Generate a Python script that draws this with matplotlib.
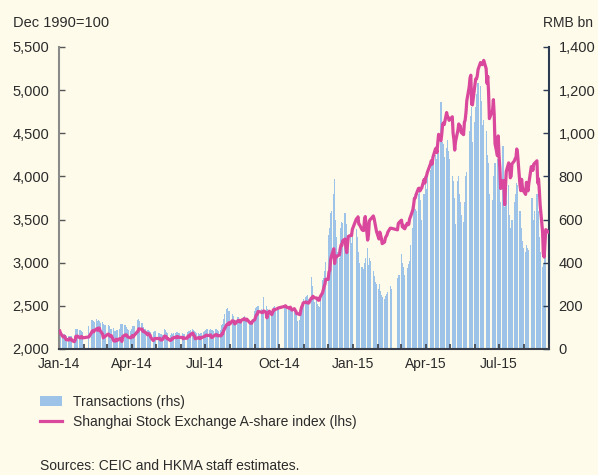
import pandas as pd
import numpy as np
import matplotlib
matplotlib.use('Agg')
import matplotlib.pyplot as plt
import matplotlib.dates as mdates
import matplotlib.patches as mpatches
from matplotlib.lines import Line2D
from matplotlib.ticker import FuncFormatter, MultipleLocator

# exchange holidays (no trading)
holidays = ['2014-01-01', '2014-01-31', '2014-02-03', '2014-02-04', '2014-02-05',
            '2014-02-06', '2014-04-07', '2014-05-01', '2014-05-02', '2014-06-02',
            '2014-09-08', '2014-10-01', '2014-10-02', '2014-10-03', '2014-10-06',
            '2014-10-07', '2015-01-01', '2015-01-02', '2015-02-18', '2015-02-19',
            '2015-02-20', '2015-02-23', '2015-02-24', '2015-04-06', '2015-05-01',
            '2015-06-22']
first_day = '2014-01-01'
last_day = '2015-08-31'

# Shanghai Stock Exchange A-share index (lhs), one row per month
a_share = [
    2208, 2181, 2141, 2143, 2148, 2122, 2108, 2104, 2122, 2118, 2118, 2098, 2085, 2102, 2149, 2139, 2150, 2128, 2134, 2146, 2128,
    2140, 2184, 2202, 2213, 2199, 2214, 2235, 2217, 2243, 2242, 2212, 2174, 2130, 2143, 2144, 2153,
    2173, 2168, 2149, 2156, 2154, 2093, 2095, 2091, 2114, 2098, 2119, 2120, 2116, 2088, 2143, 2163, 2164, 2161, 2142, 2137, 2129,
    2143, 2156, 2139, 2155, 2197, 2204, 2234, 2231, 2230, 2205, 2204, 2197, 2196, 2163, 2178, 2170, 2161, 2132, 2098, 2115, 2121,
    2122, 2124, 2105, 2111, 2105, 2150, 2148, 2143, 2120, 2121, 2099, 2102, 2119, 2117, 2131, 2137, 2130, 2146, 2136, 2135,
    2134, 2119, 2129, 2125, 2125, 2148, 2152, 2146, 2167, 2185, 2163, 2152, 2119, 2121, 2130, 2134, 2120, 2133, 2132, 2144,
    2146, 2157, 2161, 2157, 2157, 2163, 2135, 2134, 2143, 2164, 2167, 2165, 2152, 2156, 2152, 2173, 2175, 2206, 2227, 2280, 2287, 2285, 2305,
    2289, 2327, 2325, 2322, 2291, 2297, 2329, 2325, 2332, 2311, 2331, 2345, 2351, 2345, 2335, 2346, 2314, 2303, 2299, 2298, 2321,
    2340, 2373, 2396, 2403, 2435, 2427, 2421, 2424, 2441, 2424, 2362, 2404, 2425, 2438, 2398, 2421, 2455, 2453, 2457, 2468, 2475,
    2494, 2501, 2486, 2477, 2470, 2485, 2468, 2451, 2467, 2449, 2436, 2410, 2410, 2398, 2447, 2485, 2503, 2534,
    2544, 2544, 2534, 2533, 2533, 2590, 2585, 2611, 2602, 2594, 2590, 2572, 2565, 2567, 2604, 2651, 2688, 2726, 2754, 2809,
    2806, 2893, 2910, 3035, 3076, 3162, 2991, 3078, 3063, 3076, 3092, 3164, 3205, 3201, 3254, 3275, 3174, 3117, 3216, 3305, 3317, 3315, 3387,
    3508, 3509, 3532, 3448, 3439, 3382, 3375, 3373, 3493, 3535, 3262, 3322, 3479, 3500, 3508, 3542, 3511, 3460, 3416, 3361,
    3275, 3355, 3323, 3283, 3221, 3240, 3289, 3305, 3322, 3354, 3400, 3400, 3381, 3453, 3466,
    3493, 3416, 3434, 3401, 3393, 3457, 3440, 3446, 3506, 3530, 3611, 3668, 3745, 3750, 3787, 3860, 3864, 3833, 3855, 3864, 3964, 3924,
    3989, 4005, 4045, 4147, 4183, 4143, 4224, 4315, 4329, 4276, 4391, 4488, 4415, 4495, 4605, 4621, 4601, 4740, 4686, 4686, 4650,
    4691, 4500, 4428, 4305, 4403, 4537, 4608, 4581, 4584, 4510, 4484, 4625, 4655, 4742, 4877, 5039, 5141, 5173, 4837, 4829,
    5055, 5130, 5130, 5165, 5240, 5320, 5300, 5295, 5310, 5345, 5250, 5080, 5160, 4980, 4670, 4770, 4890, 4720, 4380, 4240, 4470,
    4243, 4096, 3860, 3953, 3902, 3672, 3884, 4059, 4157, 4108, 3984, 4003, 4144, 4180, 4206, 4215, 4318, 4261, 3900, 3835, 3967, 3879, 3836,
    3792, 3932, 3869, 3833, 3920, 4113, 4113, 4070, 4141, 4151, 4181, 3925, 3972, 3836, 3673, 3361, 3104, 3065, 3229, 3384, 3357,
]

# Transactions, RMB bn (rhs)
turnover = [
    75, 72, 70, 68, 70, 66, 60, 58, 62, 60, 60, 62, 58, 65, 92, 90, 92, 88, 90, 85, 80,
    105, 128, 135, 130, 132, 125, 138, 130, 135, 128, 120, 125, 115, 108, 110, 112,
    110, 108, 100, 95, 92, 98, 85, 82, 90, 88, 95, 110, 115, 112, 118, 112, 105, 100, 92, 88, 85,
    95, 105, 100, 108, 125, 135, 140, 130, 120, 108, 100, 95, 92, 90, 88, 85, 80, 75, 78, 80, 82,
    75, 72, 70, 68, 66, 95, 90, 80, 72, 70, 62, 65, 72, 70, 74, 75, 78, 80, 76, 74,
    72, 70, 68, 66, 65, 80, 85, 82, 88, 92, 86, 82, 78, 75, 72, 70, 68, 75, 72, 80,
    85, 90, 92, 95, 88, 92, 90, 88, 85, 95, 92, 90, 88, 85, 90, 110, 115, 140, 160, 185, 190, 175, 178,
    150, 160, 155, 145, 130, 135, 150, 145, 140, 135, 138, 150, 155, 145, 140, 142, 125, 120, 118, 125, 140,
    175, 190, 195, 185, 200, 185, 175, 180, 240, 200, 185, 170, 175, 180, 165, 170, 195, 200, 190, 195, 185,
    200, 205, 195, 190, 185, 200, 195, 175, 180, 170, 160, 140, 130, 135, 175, 205, 215, 230,
    240, 245, 250, 230, 225, 335, 290, 270, 245, 220, 230, 210, 200, 195, 230, 320, 330, 340, 360, 405,
    430, 530, 560, 630, 640, 720, 790, 600, 520, 450, 420, 500, 560, 590, 585, 630, 580, 520, 450, 500, 520, 490, 560,
    555, 520, 450, 420, 400, 380, 360, 370, 400, 420, 470, 390, 420, 410, 400, 360, 340, 310, 290, 300,
    280, 300, 270, 250, 240, 230, 245, 240, 255, 265, 290, 280, 330, 340, 345,
    440, 400, 380, 345, 340, 360, 375, 395, 410, 480, 560, 640, 660, 650, 640, 720, 740, 690, 560, 600, 720, 690,
    780, 740, 800, 830, 850, 820, 870, 900, 880, 860, 920, 910, 1145, 940, 960, 950, 890, 930, 970, 920, 880,
    800, 780, 700, 640, 580, 780, 800, 720, 680, 620, 590, 680, 750, 800, 820, 990, 1010, 1080, 1120, 960,
    1050, 1120, 1180, 1200, 1235, 1220, 1150, 1040, 1000, 1060, 1010, 900, 820, 860, 720, 690, 800, 820, 860, 880, 960,
    780, 700, 680, 940, 700, 660, 720, 800, 760, 620, 560, 540, 600, 680, 690, 720, 770, 760, 640, 620, 560, 500, 470,
    450, 480, 470, 440, 460, 620, 700, 650, 600, 640, 720, 700, 640, 520, 450, 380, 400, 420, 440, 480, 420,
]

bar_label = 'Transactions (rhs)'
line_label = 'Shanghai Stock Exchange A-share index (lhs)'

bg = '#fefbea'
blue = '#9dc4e8'
pink = '#d9489c'
txt = '#2b2b2b'

days = pd.bdate_range(first_day, last_day)
days = days[~days.isin(pd.to_datetime(holidays))]
df = pd.DataFrame({'index': a_share, 'turnover': turnover}, index=days)

plt.rcParams['font.family'] = ['Liberation Sans', 'DejaVu Sans']
plt.rcParams['font.size'] = 10

fig = plt.figure(figsize=(5.98, 4.75), dpi=100, facecolor=bg)
ax = fig.add_axes([59 / 598, 1 - 349 / 475, 490 / 598, 302 / 475])
ax2 = ax.twinx()

# bars a bit wider than one day so each trading week reads as a solid block
ax2.bar(df.index, df['turnover'], width=1.5, color=blue, linewidth=0, zorder=1)
ax.plot(df.index, df['index'], color=pink, lw=2.3, zorder=3)

ax.set_zorder(ax2.get_zorder() + 1)
ax.patch.set_visible(False)

ax.set_xlim(pd.Timestamp('2014-01-01'), pd.Timestamp('2015-09-01'))
ax.set_ylim(2000, 5500)
ax2.set_ylim(0, 1400)

ax.yaxis.set_major_locator(MultipleLocator(500))
ax2.yaxis.set_major_locator(MultipleLocator(200))
ax.yaxis.set_major_formatter(FuncFormatter(lambda v, p: f'{int(v):,}'))
ax2.yaxis.set_major_formatter(FuncFormatter(lambda v, p: f'{int(v):,}'))

ax.xaxis.set_major_locator(mdates.MonthLocator(bymonth=[1, 4, 7, 10]))
ax.xaxis.set_minor_locator(mdates.MonthLocator())
ax.xaxis.set_major_formatter(mdates.DateFormatter('%b-%y'))

for a in (ax, ax2):
    a.spines['top'].set_visible(False)
ax.spines['right'].set_visible(False)
ax2.spines['left'].set_visible(False)
ax2.spines['bottom'].set_visible(False)
ax.spines['left'].set_color('#8a8a8a')
ax.spines['left'].set_linewidth(1.5)
ax2.spines['right'].set_color('#2c3a52')
ax2.spines['right'].set_linewidth(1.5)
ax.spines['bottom'].set_color('#3a3e48')
ax.spines['bottom'].set_linewidth(1.5)

ax.tick_params(axis='y', direction='in', length=4.5, width=1, color='#555555',
               labelcolor=txt, labelsize=10.5, pad=7)
ax2.tick_params(axis='y', direction='in', length=4, width=1, color='#2c3a52',
                labelcolor=txt, labelsize=10.5, pad=7)
ax.tick_params(axis='x', which='both', direction='in', length=3.5, width=1.2,
               color='#3a3e48', labelcolor=txt, labelsize=10, pad=6)

fig.text(13 / 598, 1 - 23 / 475, 'Dec 1990=100', color=txt, fontsize=10.5, va='center', ha='left')
fig.text(593 / 598, 1 - 23 / 475, 'RMB bn', color=txt, fontsize=10, va='center', ha='right')

handles = [mpatches.Patch(facecolor=blue, edgecolor='none'),
           Line2D([0], [0], color=pink, lw=2.3)]
fig.legend(handles, [bar_label, line_label], loc='upper left',
           bbox_to_anchor=(40 / 598, 1 - 395 / 475), frameon=False, fontsize=10,
           borderpad=0, borderaxespad=0, handlelength=1.6, handletextpad=0.75,
           labelspacing=0.4, labelcolor=txt)

fig.text(40 / 598, 1 - 466 / 475, 'Sources: CEIC and HKMA staff estimates.',
         color=txt, fontsize=10, va='center', ha='left')

fig.savefig('out.png', dpi=100, facecolor=bg)
